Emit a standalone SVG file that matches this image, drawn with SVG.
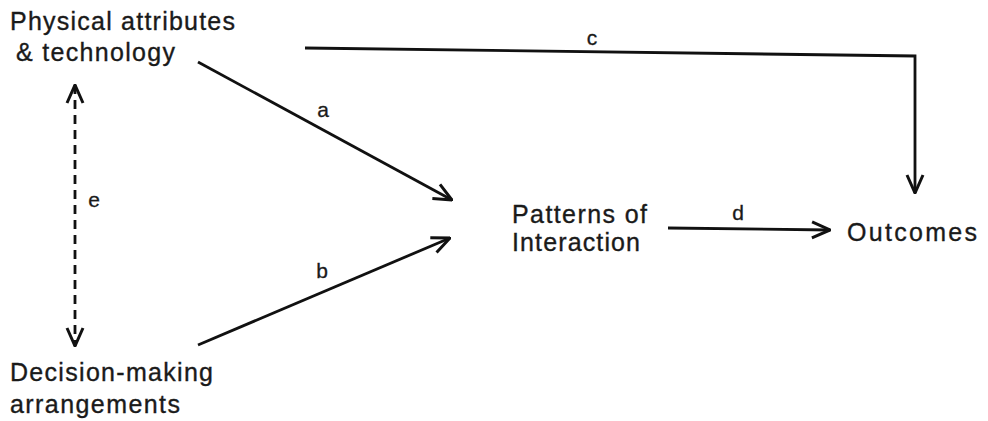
<svg xmlns="http://www.w3.org/2000/svg" width="988" height="421" viewBox="0 0 988 421">
<defs>
<marker id="ah" viewBox="0 0 20 20" refX="19" refY="10" markerWidth="20" markerHeight="20" markerUnits="userSpaceOnUse" orient="auto-start-reverse">
<path d="M1,2 L19,10 L1,18" fill="none" stroke="#111" stroke-width="3" stroke-linejoin="miter"/>
</marker>
<style>
.t{font-family:"Liberation Sans",Arial,sans-serif;font-size:25px;fill:#1a1a1a;stroke:#1a1a1a;stroke-width:0.35}
.l{font-family:"Liberation Sans",Arial,sans-serif;font-size:21px;fill:#1a1a1a;text-anchor:middle;stroke:#1a1a1a;stroke-width:0.3}
.c{fill:none;stroke:#111;stroke-width:2.8}
</style>
</defs>
<rect width="988" height="421" fill="#fff"/>
<g id="physical">
<text class="t" x="10" y="30" textLength="225" lengthAdjust="spacing">Physical attributes</text>
<text class="t" x="16" y="61" textLength="159" lengthAdjust="spacing">&amp; technology</text>
</g>
<g id="decision">
<text class="t" x="10" y="381" textLength="203" lengthAdjust="spacing">Decision-making</text>
<text class="t" x="10" y="413" textLength="170" lengthAdjust="spacing">arrangements</text>
</g>
<g id="patterns">
<text class="t" x="512" y="223" textLength="135" lengthAdjust="spacing">Patterns of</text>
<text class="t" x="512" y="251" textLength="128" lengthAdjust="spacing">Interaction</text>
</g>
<g id="outcomes">
<text class="t" x="847" y="241" textLength="130" lengthAdjust="spacing">Outcomes</text>
</g>
<g id="connectors">
<path class="c" d="M198,62 L452,200" marker-end="url(#ah)"/>
<path class="c" d="M198,345 L450,238" marker-end="url(#ah)"/>
<path class="c" d="M305,48 L915,56 L915,193" marker-end="url(#ah)"/>
<path class="c" d="M668,228 L830,230" marker-end="url(#ah)"/>
<path class="c" d="M75,85 L75,346" stroke-dasharray="9,6" marker-start="url(#ah)" marker-end="url(#ah)"/>
<text class="l" x="323" y="117">a</text>
<text class="l" x="322" y="278">b</text>
<text class="l" x="592" y="45">c</text>
<text class="l" x="738" y="220">d</text>
<text class="l" x="94" y="207">e</text>
</g>
</svg>
